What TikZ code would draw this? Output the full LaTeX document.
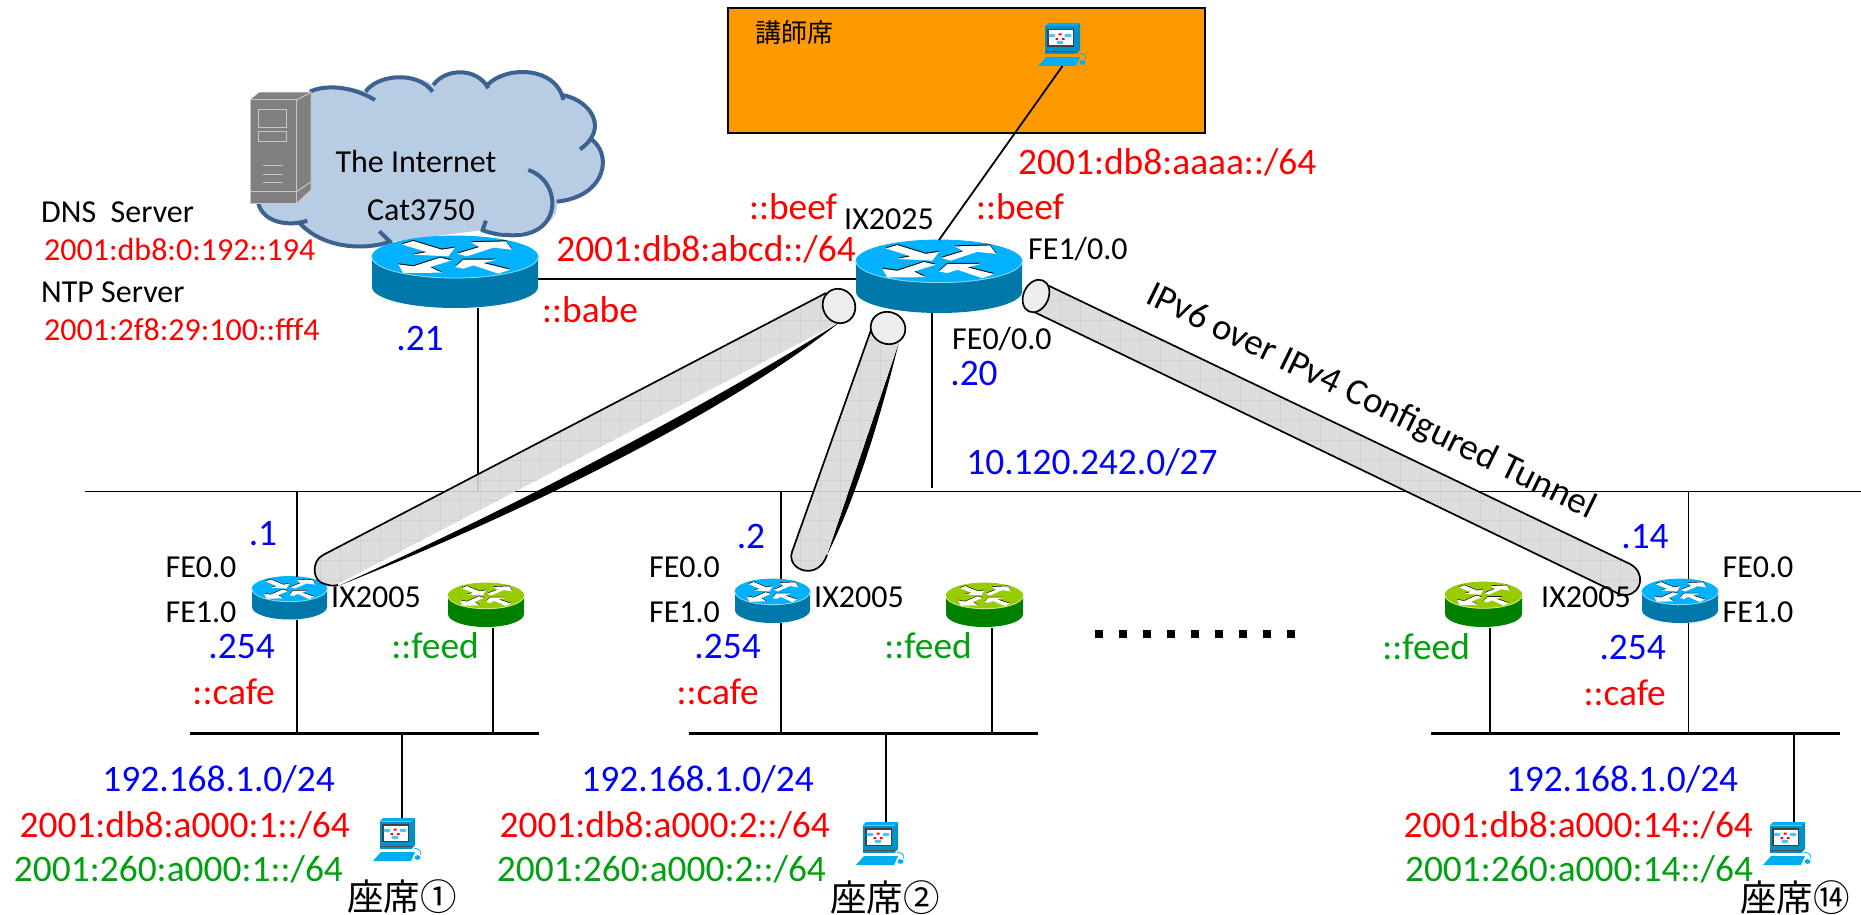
\documentclass[tikz,border=0pt]{standalone}
\usepackage{fontspec}
\setmainfont{Carlito}
\newfontfamily\cjkfont{Noto Sans CJK JP}
\definecolor{rblue}{HTML}{00B2FF}
\definecolor{rblueside}{HTML}{0078AA}
\definecolor{rgreen}{HTML}{99CC00}
\definecolor{rgreenside}{HTML}{008000}
\definecolor{cloudfill}{HTML}{B8CCE4}
\definecolor{cloudline}{HTML}{3B6291}
\definecolor{labred}{HTML}{FF0000}
\definecolor{labblue}{HTML}{0000FF}
\definecolor{labgreen}{HTML}{00A010}
\definecolor{tunnelgray}{HTML}{DADADA}
\definecolor{pcblue}{HTML}{0090C8}
\definecolor{pclight}{HTML}{00AEEF}
\definecolor{deskorange}{HTML}{FF9900}
\tikzset{
  small/.style={inner sep=0pt,font=\fontsize{32}{32}\selectfont},
  large/.style={inner sep=0pt,font=\fontsize{37.4}{37.4}\selectfont},
  cjkl/.style={inner sep=0pt,font=\cjkfont\fontsize{36.5}{36.5}\selectfont},
  cjks/.style={inner sep=0pt,font=\cjkfont\fontsize{26}{26}\selectfont},
  wire/.style={draw=black,line width=1.8pt},
  netline/.style={draw=black,line width=2.8pt},
  tunnelbody/.style={fill=tunnelgray,fill opacity=.9,
    path picture={\draw[line width=.7pt,black!18,step=20pt]
      (path picture bounding box.south west) grid (path picture bounding box.north east);}},
  tunneledge/.style={draw=black,line width=1.7pt,line join=round},
  box/.style={rectangle,minimum width=0pt,minimum height=0pt,inner sep=0pt,outer sep=0pt},
}
\newcommand{\routerat}[7]{%
  \pgfmathsetmacro{\ux}{#4/498}\pgfmathsetmacro{\uy}{#5/216}%
  \node[box,minimum width=#4pt,minimum height=#5pt] (#1) at (#2,#3) {};
  \begin{scope}[shift={(#1.center)},x=\ux pt,y=-\uy pt]
    \fill[#7] (-249,-45) -- (-249,45) .. controls (-249,80) and (-137,108) .. (0,108)
       .. controls (137,108) and (249,80) .. (249,45) -- (249,-45) -- cycle;
    \draw[#6,line width=.8pt,fill=#6] (0,-45) ellipse [x radius=249,y radius=63];
    \draw[white!55!#6,line width=.8pt] (-249,-45) .. controls (-249,-10) and (-137,18) .. (0,18)
       .. controls (137,18) and (249,-10) .. (249,-45);
    \foreach \dy/\fc in {3/black,0/white}{
    \fill[\fc,yshift=\dy*\uy pt]
      (-160,-83)--(-125,-93)--(-40,-67)--(0,-73)--(-20,-47)--(-125,-52)--(-85,-60)--cycle
      (7,-55)--(73,-75)--(48,-89)--(153,-92)--(171,-67)--(115,-73)--(35,-47)--cycle
      (-10,-35)--(-75,-15)--(-40,2)--(-155,3)--(-170,-23)--(-125,-17)--(-45,-43)--cycle
      (165,-7)--(130,5)--(55,-20)--(25,-10)--(0,-15)--(25,-37)--(125,-37)--(85,-27)--cycle;
    }
  \end{scope}
}
\newcommand{\pcicon}[3]{%
  \node[box,minimum width=49pt,minimum height=43pt,anchor=north west] (#1) at (#2,#3) {};
  \begin{scope}[shift={(#1.north west)},x=1pt,y=-1pt]
    \fill[pclight] (6.5,3.5)--(10,0)--(42,0)--(38.5,3.5)--cycle;
    \fill[pcblue] (38.5,3.5)--(42,0)--(42,27)--(38.5,31)--cycle;
    \fill[pcblue] (6.5,3.5) rectangle (38.5,31);
    \fill[black!75] (9,6) rectangle (36,24);
    \fill[white] (10.5,7.5) rectangle (34.5,22.5);
    \fill[black!70] (6.5,28) rectangle (38.5,29.2);
    \fill[pclight] (0,43)--(8,34)--(42,34)--(38,43)--cycle;
    \fill[pclight!70] (14,12.5) ellipse [x radius=3.6,y radius=1.8]
                 (30,12.5) ellipse [x radius=3.6,y radius=1.8]
                 (22,19.5) ellipse [x radius=3.6,y radius=1.8];
    \fill[labred] (20.5,10.5) rectangle (23.5,12.5) (17.5,15) rectangle (20,17) (24,15) rectangle (26.5,17);
    \draw[pclight,line width=.8pt] (41,30) .. controls (46,31) and (49,33) .. (47.5,36.5);
    \fill[pclight] (44.5,39.5) ellipse [x radius=3,y radius=2.4];
  \end{scope}
}
\begin{document}
\begin{tikzpicture}[x=1pt,y=-1pt]
\useasboundingbox (0,0) rectangle (1861,915);
\fill[white] (0,0) rectangle (1861,915);

% cloud
\begin{scope}[shift={(200,40)},x=0.33333pt,y=-0.33333pt]
  \fill[cloudfill]
    (330,155) .. controls (370,135) and (450,135) .. (497,155)
    .. controls (530,105) and (640,95) .. (700,135)
    .. controls (735,85) and (830,85) .. (865,130)
    .. controls (920,75) and (1070,85) .. (1087,165)
    .. controls (1170,180) and (1220,250) .. (1170,295)
    .. controls (1240,340) and (1220,470) .. (1070,485)
    .. controls (1080,550) and (1000,600) .. (850,570)
    -- (570,605) .. controls (500,630) and (370,630) .. (295,545)
    .. controls (270,560) and (190,550) .. (175,490) -- cycle;
  \begin{scope}[draw=cloudline,line width=4pt,line cap=butt]
    \draw (330,155) .. controls (370,135) and (450,135) .. (525,180);
    \draw (497,155) .. controls (530,105) and (650,90) .. (698,155);
    \draw (700,135) .. controls (735,85) and (830,80) .. (865,145);
    \draw (862,135) .. controls (920,75) and (1070,80) .. (1090,180);
    \draw (1087,165) .. controls (1170,180) and (1230,265) .. (1140,328);
    \draw (1170,295) .. controls (1240,340) and (1220,470) .. (1070,485);
    \draw (985,390) .. controls (1090,425) and (1090,600) .. (920,585)
       .. controls (890,585) and (860,575) .. (845,570);
    \draw (858,542) -- (846,575);
    \draw (538,574) .. controls (555,590) and (565,600) .. (575,610);
    \draw (570,605) .. controls (500,630) and (370,630) .. (295,545);
    \draw (322,542) .. controls (270,560) and (190,550) .. (175,490);
  \end{scope}
  % server
  \fill[black!50] (150,180)--(178,157)--(333,157)--(333,450)--(290,490)--(150,490)--cycle;
  \begin{scope}[draw=black!22,line width=1pt]
    \draw (150,180)--(290,180)--(290,490)--(150,490)--cycle;
    \draw (290,180)--(333,157)--(333,450)--(290,490);
    \draw (150,455)--(290,455);
    \draw (290,455)--(333,425);
    \draw (175,210) rectangle (258,262);
    \draw (175,275) rectangle (258,305);
    \draw (190,378)--(248,378) (190,403)--(248,403) (190,428)--(248,428);
  \end{scope}
\end{scope}

% instructor desk
\node[box,draw=black,line width=1.5pt,fill=deskorange,minimum width=477pt,minimum height=125pt,anchor=north west] (desk) at (728,8) {};

% routers, hosts
\routerat{cat}{455}{272}{166}{72}{rblue}{rblueside}
\routerat{ixc}{939}{276.5}{166}{73}{rblue}{rblueside}
\routerat{ra}{289.5}{598}{75}{43}{rblue}{rblueside}
\routerat{ga}{486}{605}{76}{44}{rgreen}{rgreenside}
\routerat{rb}{772.5}{601}{75}{44}{rblue}{rblueside}
\routerat{gb}{984.5}{605}{77}{44}{rgreen}{rgreenside}
\routerat{rc}{1680}{601}{76}{44}{rblue}{rblueside}
\routerat{gc}{1483.5}{604.5}{77}{45}{rgreen}{rgreenside}
\pcicon{pct}{1038}{23}
\pcicon{pca}{373}{818}
\pcicon{pcb}{856}{822}
\pcicon{pcc}{1763}{822}

% free ends of the lines
\coordinate (bbl) at (85,491.5);
\coordinate (bbr) at (1861,491.5);
\coordinate (neta) at (190,733.5);
\coordinate (netar) at (539,733.5);
\coordinate (netb) at (689,733.5);
\coordinate (netbr) at (1037.5,733.5);
\coordinate (netc) at (1431,733.5);
\coordinate (netcr) at (1840,733.5);
\coordinate (ixfoot) at (0,488);
\coordinate (gfoot) at (0,731);

\draw[wire] (bbl) -- (bbr);
\draw[netline] (neta) -- (netar);
\draw[netline] (netb) -- (netbr);
\draw[netline] (netc) -- (netcr);

\draw[wire] (cat.east |- 0,279) -- (ixc.west |- 0,279);
\draw[wire] ([xshift=23pt]cat.south) -- ([xshift=23pt]cat.south |- bbl);
\draw[wire] ([xshift=-7pt]ixc.south) -- ([xshift=-7pt]ixc.south |- ixfoot);
\draw[wire] (pct.south) -- (ixc.north);
\draw[wire] ([xshift=7.5pt]ra.north) -- ([xshift=7.5pt]ra.north |- bbl);
\draw[wire] ([xshift=7.5pt]ra.south) -- ([xshift=7.5pt]ra.south |- neta);
\draw[wire] ([xshift=8.5pt]rb.north) -- ([xshift=8.5pt]rb.north |- bbl);
\draw[wire] ([xshift=8.5pt]rb.south) -- ([xshift=8.5pt]rb.south |- netb);
\draw[wire] ([xshift=8.5pt]rc.north) -- ([xshift=8.5pt]rc.north |- bbl);
\draw[wire] ([xshift=8.5pt]rc.south) -- ([xshift=8.5pt]rc.south |- netc);
\draw[netline] ([xshift=7pt,yshift=-1pt]ga.south) -- ([xshift=7pt,yshift=-1pt]ga.south |- gfoot);
\draw[wire] ([xshift=7.5pt,yshift=-1pt]gb.south) -- ([xshift=7.5pt,yshift=-1pt]gb.south |- gfoot);
\draw[netline] ([xshift=6.5pt,yshift=-1pt]gc.south) -- ([xshift=6.5pt,yshift=-1pt]gc.south |- gfoot);
\draw[netline] ([xshift=4.5pt]pca.north) -- ([xshift=4.5pt]pca.north |- neta);
\draw[netline] ([xshift=5.5pt]pcb.north) -- ([xshift=5.5pt]pcb.north |- netb);
\draw[netline] ([xshift=6.5pt]pcc.north) -- ([xshift=6.5pt]pcc.north |- netc);

% tunnel 1
\fill[black] (840,322) .. controls (730,410) and (530,510) .. (338,586)
   .. controls (530,500) and (720,398) .. (840,322) -- cycle;
\path[tunnelbody] (826,293) -- (323,555) .. controls (311,561) and (312,582) .. (325,584)
   .. controls (330,586) and (334,586) .. (338,584) -- (840,322) -- cycle;
\draw[tunneledge] (826,293) -- (323,555) .. controls (311,561) and (312,582) .. (325,584)
   .. controls (330,586) and (334,586) .. (338,585);
\draw[tunneledge,fill=black!7,rotate around={27:(839,306)}] (839,306) ellipse [x radius=16,y radius=17.5];
% tunnel 2
\fill[black] (899,342) .. controls (880,420) and (855,500) .. (827,555) -- cycle;
\path[tunnelbody] (871,330) -- (792,552) .. controls (786,570) and (818,582) .. (827,555) -- (899,342) -- cycle;
\draw[tunneledge] (871,330) -- (792,552) .. controls (786,570) and (818,582) .. (827,555);
\draw[tunneledge,fill=black!7,rotate around={70:(888,328)}] (888,328) ellipse [x radius=16,y radius=17.5];
% tunnel 3
\path[tunnelbody] (1043,283) -- (1630,564) .. controls (1645,572) and (1643,592) .. (1627,595)
   .. controls (1622,595) and (1618,594) .. (1613,591) -- (1030,310) -- cycle;
\draw[tunneledge] (1043,283) -- (1630,564) .. controls (1645,572) and (1643,592) .. (1627,595)
   .. controls (1622,595) and (1618,594) .. (1613,591) -- (1030,310);
\draw[tunneledge,fill=black!7,rotate around={-25:(1036,296)}] (1036,296) ellipse [x radius=12.5,y radius=17];

% dots
\foreach \i in {0,...,8}{\fill[black] ({1094.5+24.1*\i},630) rectangle ++(8,8);}

% labels
\node[small] (tinternet) at (416,162) {The Internet};
\node[small] (tcat) at (421,210) {Cat3750};
\node[cjks] (tdesk) at (794,33) {講師席};
\node[small,anchor=west] (tdns) at (41,212) {DNS\ \ Server};
\node[small,anchor=west] (tntp) at (41,292) {NTP Server};
\node[small,anchor=west,labred] (tdnsa) at (44,250) {2001:db8:0:192::194};
\node[small,anchor=west,labred] (tntpa) at (44,330) {2001:2f8:29:100::fff4};
\node[large,labred] (tb1) at (793,207) {::beef};
\node[large,labred] (tb2) at (1020,207) {::beef};
\node[small] (tix) at (889,219) {IX2025};
\node[large,labred,anchor=east] (tabcd) at (856,249) {2001:db8:abcd::/64};
\node[large,labred,anchor=west] (taaaa) at (1018,162) {2001:db8:aaaa::/64};
\node[small,anchor=west] (tfe1) at (1028,249) {FE1/0.0};
\node[small,anchor=west] (tfe0) at (952,339) {FE0/0.0};
\node[large,labblue] (t20) at (974,374) {.20};
\node[large,labblue] (t21) at (420,339) {.21};
\node[large,labred] (tbabe) at (590,310) {::babe};
\node[large,labblue] (tnet) at (1092,462) {10.120.242.0/27};
\node[inner sep=0pt,font=\fontsize{37}{37}\selectfont,rotate=-26] (ttun) at (1371,402) {IPv6 over IPv4 Configured Tunnel};

\node[large,labblue] (a1) at (263,534) {.1};
\node[small] (a2) at (201,567) {FE0.0};
\node[small] (a3) at (201,612) {FE1.0};
\node[large,labblue,anchor=east] (a4) at (275,647) {.254};
\node[large,labred,anchor=east] (a5) at (275,692) {::cafe};
\node[small] (a6) at (376,597) {IX2005};
\node[large,labgreen] (a7) at (435,646) {::feed};
\node[large,labblue,anchor=east] (a8) at (335,779) {192.168.1.0/24};
\node[large,labred,anchor=east] (a9) at (350,825) {2001:db8:a000:1::/64};
\node[large,labgreen,anchor=east] (a10) at (343,869) {2001:260:a000:1::/64};
\node[cjkl] (a11) at (402,897) {座席①};

\node[large,labblue] (b1) at (751,537) {.2};
\node[small] (b2) at (684.5,567) {FE0.0};
\node[small] (b3) at (684.5,612) {FE1.0};
\node[large,labblue,anchor=east] (b4) at (761,647) {.254};
\node[large,labred,anchor=east] (b5) at (759,692) {::cafe};
\node[small] (b6) at (859,597) {IX2005};
\node[large,labgreen] (b7) at (928,646) {::feed};
\node[large,labblue,anchor=east] (b8) at (814,779) {192.168.1.0/24};
\node[large,labred,anchor=east] (b9) at (830,825) {2001:db8:a000:2::/64};
\node[large,labgreen,anchor=east] (b10) at (826,869) {2001:260:a000:2::/64};
\node[cjkl] (b11) at (885,898) {座席②};

\node[large,labblue] (c1) at (1645,537) {.14};
\node[small] (c2) at (1758,567) {FE0.0};
\node[small] (c3) at (1758,612) {FE1.0};
\node[large,labblue,anchor=east] (c4) at (1666,648) {.254};
\node[large,labred,anchor=east] (c5) at (1666,693) {::cafe};
\node[small] (c6) at (1586,597) {IX2005};
\node[large,labgreen,anchor=east] (c7) at (1470,647) {::feed};
\node[large,labblue] (c8) at (1622,779) {192.168.1.0/24};
\node[large,labred,anchor=east] (c9) at (1753,825) {2001:db8:a000:14::/64};
\node[large,labgreen,anchor=east] (c10) at (1753,869) {2001:260:a000:14::/64};
\node[cjkl] (c11) at (1795,898) {座席⑭};
\end{tikzpicture}
\end{document}
